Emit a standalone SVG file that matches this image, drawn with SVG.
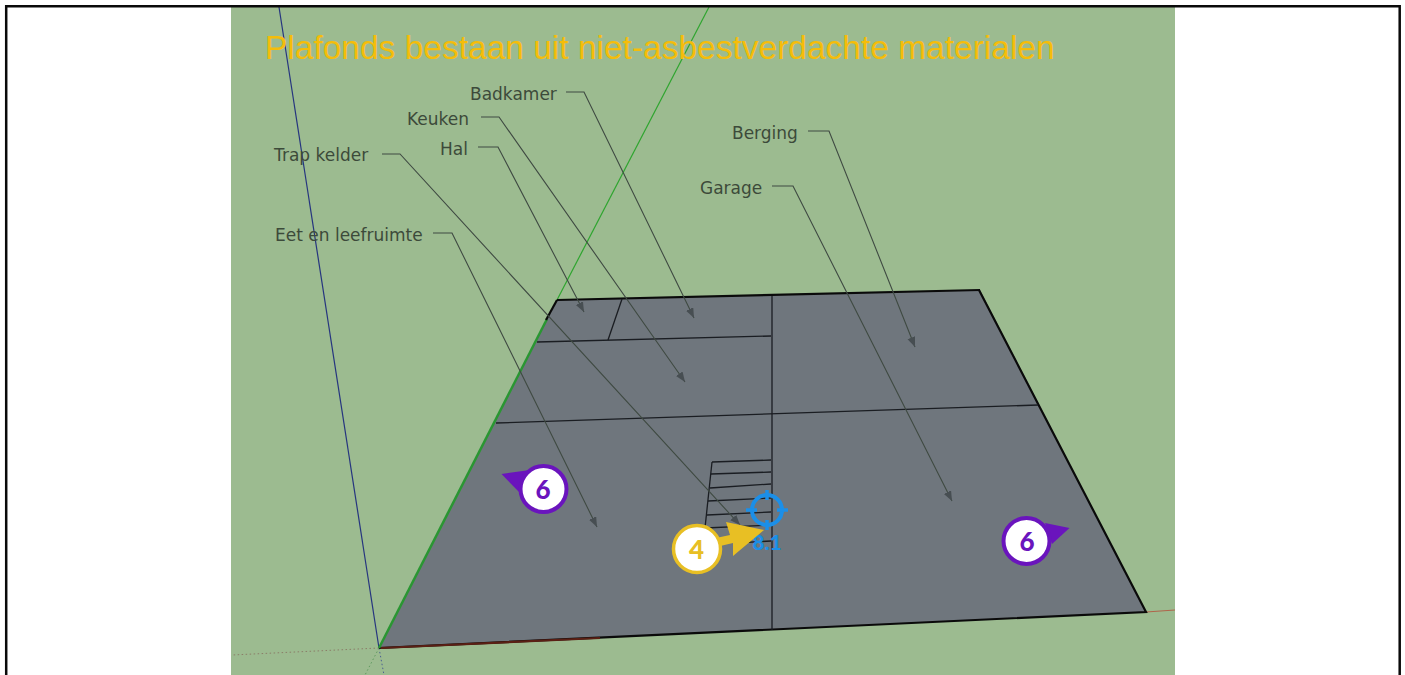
<svg xmlns="http://www.w3.org/2000/svg" width="1405" height="675" viewBox="0 0 1405 675">
<style>
.lbl{font-family:"DejaVu Sans",sans-serif;font-size:17px;fill:#3c4a3a}
.lead{fill:none;stroke:#3f4a42;stroke-width:1.1;marker-end:url(#ah)}
.edge{stroke:#1a1d22;stroke-width:1.3;fill:none}
.num{font-family:"Lato","Open Sans",sans-serif;font-weight:900;font-size:26px;text-anchor:middle}
</style>
<defs>
<marker id="ah" markerUnits="userSpaceOnUse" markerWidth="12" markerHeight="10" refX="10" refY="4" orient="auto"><path d="M0,0L10,4L0,8Z" fill="#474e52"/></marker>
</defs>
<rect width="1405" height="675" fill="#fff"/>
<rect x="231" y="7" width="944" height="668" fill="#9cbb90"/>
<g id="axes" fill="none">
<path d="M279,7L379,648" stroke="#26357f" stroke-width="1.2"/>
<path d="M709,7L557,300" stroke="#2fa52f" stroke-width="1.2"/>
<path d="M1146,612L1175,610" stroke="#b0644a" stroke-width="1"/>
<path d="M379,648L232,655" stroke="#8b7d68" stroke-width="1" stroke-dasharray="1.5 2.5"/>
<path d="M379,648L384,675" stroke="#4a5f90" stroke-width="1" stroke-dasharray="1.5 2.5"/>
<path d="M379,648L365,675" stroke="#5f9a5f" stroke-width="1" stroke-dasharray="1.5 2.5"/>
</g>
<g id="floor">
<polygon points="557,300 980,290 1146,612 379,648" fill="#6f767d"/>
<path d="M979,290L1146,612L379,648" fill="none" stroke="#0a0a0a" stroke-width="2.200"/>
<path d="M557,300L980,290" fill="none" stroke="#0a0a0a" stroke-width="2.200"/>
<path d="M381,648L600,638" fill="none" stroke="#5a1f14" stroke-width="2.200"/>
<path d="M379,648L547,319" fill="none" stroke="#2a9632" stroke-width="2.500"/>
<path d="M557,300L546,320" fill="none" stroke="#0a0a0a" stroke-width="2.200"/>
<path class="edge" d="M772,296V630"/>
<path class="edge" d="M537,342L771,336"/>
<path class="edge" d="M622,299L608,340"/>
<path class="edge" d="M496,423L1038,405"/>
<path class="edge" d="M712,462L771,460"/>
<path class="edge" d="M711,474L771,472"/>
<path class="edge" d="M710,488L771,484"/>
<path class="edge" d="M708,501L771,498"/>
<path class="edge" d="M707,515L771,512"/>
<path class="edge" d="M705,528L771,525"/>
<path class="edge" d="M736,543L771,541"/>
<path class="edge" d="M712,462L705,528"/>
</g>
<text id="title" x="265" y="59" font-family="Liberation Sans,sans-serif" font-size="33.500" fill="#f5bd0a">Plafonds bestaan uit niet-asbestverdachte materialen</text>
<g id="connectors">
<path class="lead" d="M566,92H584L694,318"/>
<path class="lead" d="M481,117H499L685,382"/>
<path class="lead" d="M478,147H498L584,312"/>
<path class="lead" d="M382,154H400L740,525"/>
<path class="lead" d="M433,233H452L597,527"/>
<path class="lead" d="M808,131H829L915,347"/>
<path class="lead" d="M772,186H793L952,501"/>
</g>
<g id="labels">
<text id="badkamer" class="lbl" x="470" y="100">Badkamer</text>
<text id="keuken" class="lbl" x="407" y="125">Keuken</text>
<text id="hal" class="lbl" x="440" y="155">Hal</text>
<text id="trap" class="lbl" x="274" y="161">Trap kelder</text>
<text id="eet" class="lbl" x="275" y="241">Eet en leefruimte</text>
<text id="berging" class="lbl" x="732" y="139">Berging</text>
<text id="garage" class="lbl" x="700" y="194">Garage</text>
</g>
<g id="target" fill="none" stroke="#1b8fe8">
<circle cx="767" cy="510" r="15" stroke-width="4"/>
<path d="M767,490V500M767,520V530M746,510H757M777,510H788" stroke-width="3.500"/>
<text x="767" y="550" font-family="Lato,sans-serif" font-weight="900" font-size="21" fill="#1b8fe8" stroke="none" text-anchor="middle">8.1</text>
</g>
<g id="marker4">
<polygon points="726,522 764,530 733,556 733,543 716,547 716,538 730,535" fill="#e8bf24"/>
<circle cx="697" cy="549" r="23.500" fill="#fff" stroke="#e8bf24" stroke-width="3.500"/>
<text class="num" x="696.500" y="558.500" fill="#e8bf24">4</text>
</g>
<g id="marker6a">
<polygon points="501.500,474 530,470 519,492" fill="#6a14bd"/>
<circle cx="543.500" cy="489" r="23" fill="#fff" stroke="#6a14bd" stroke-width="4"/>
<text class="num" x="543" y="498.500" fill="#6a14bd">6</text>
</g>
<g id="marker6b">
<polygon points="1069.500,528 1045,523 1052,544" fill="#6a14bd"/>
<circle cx="1026.500" cy="541" r="23" fill="#fff" stroke="#6a14bd" stroke-width="4"/>
<text class="num" x="1027" y="550.500" fill="#6a14bd">6</text>
</g>
<path id="frame" d="M6.200,675V6.200H1399.700V675" fill="none" stroke="#0a0a0a" stroke-width="2.500"/>
</svg>
